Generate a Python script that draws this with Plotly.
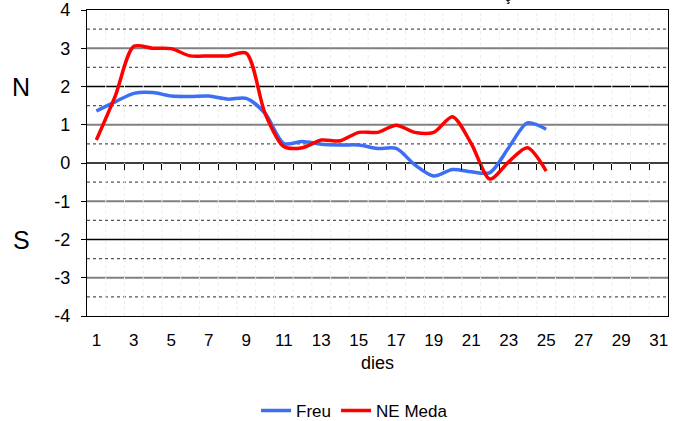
import plotly.graph_objects as go

days = list(range(1, 32))
freu_days = list(range(1, 26))
freu = [1.36, 1.6, 1.82, 1.84, 1.75, 1.74, 1.75, 1.67, 1.69, 1.3, 0.51, 0.56, 0.49, 0.47, 0.47,
        0.38, 0.38, -0.05, -0.34, -0.17, -0.23, -0.25, 0.4, 1.05, 0.88]
meda = [0.6, 1.74, 3.05, 3.0, 2.99, 2.8, 2.8, 2.8, 2.87, 1.3, 0.43, 0.4, 0.6, 0.58, 0.8,
        0.8, 0.99, 0.8, 0.8, 1.21, 0.51, -0.42, 0.03, 0.4, -0.21]
xtick_vals = list(range(1, 32, 2))
ytick_vals = list(range(-4, 5))
ytick_text = [str(v) for v in ytick_vals]
grid_half = [-3.5, -2.5, -1.5, -0.5, 0.5, 1.5, 2.5, 3.5]
grid_odd = [-3, -1, 1, 3]
grid_even = [-2, 2]

fig = go.Figure()
fig.add_trace(go.Scatter(x=freu_days, y=freu, mode="lines", name="Freu",
                         line=dict(color="#3d6ff5", width=3.5, shape="spline", smoothing=0.8)))
fig.add_trace(go.Scatter(x=freu_days, y=meda, mode="lines", name="NE Meda",
                         line=dict(color="#ff0000", width=3.5, shape="spline", smoothing=0.8)))

shapes = []
for v in grid_half:
    shapes.append(dict(type="line", xref="paper", x0=0, x1=1, yref="y", y0=v, y1=v,
                       line=dict(color="#555555", width=1.3, dash="dot"), layer="below"))
for v in grid_odd:
    shapes.append(dict(type="line", xref="paper", x0=0, x1=1, yref="y", y0=v, y1=v,
                       line=dict(color="#808080", width=1.8), layer="below"))
for v in grid_even + [0]:
    shapes.append(dict(type="line", xref="paper", x0=0, x1=1, yref="y", y0=v, y1=v,
                       line=dict(color="#000000", width=1.3), layer="below"))
for d in days[:-1]:
    shapes.append(dict(type="line", xref="x", x0=d + 0.5, x1=d + 0.5, yref="paper", y0=0, y1=1,
                       line=dict(color="#ececec", width=1, dash="dot"), layer="below"))
fig.update_layout(shapes=shapes)

fig.update_layout(
    width=677, height=421,
    margin=dict(l=87, r=9, t=10, b=105, autoexpand=False),
    paper_bgcolor="white", plot_bgcolor="white",
    font=dict(family="Liberation Sans, Arial, sans-serif", size=17, color="#000"),
    xaxis=dict(range=[0.5, 31.5], tickvals=xtick_vals, ticks="", showgrid=False, zeroline=False,
               showline=True, linecolor="black", linewidth=1.3, mirror=True, automargin=False,
               ticklabelstandoff=8,
               title=dict(text="dies", font=dict(size=18), standoff=7),
               tickfont=dict(size=17)),
    xaxis2=dict(range=[0.5, 31.5], overlaying="x", anchor="free", position=0.5,
                tickvals=[d + 0.5 for d in days[:-1]], ticks="outside", ticklen=6,
                tickcolor="black", tickwidth=1.3, showticklabels=False, showgrid=False,
                zeroline=False, showline=False, automargin=False),
    yaxis=dict(range=[-4, 4], tickvals=ytick_vals, ticktext=ytick_text, ticks="outside",
               ticklen=5, tickcolor="black", automargin=False, ticklabelstandoff=7,
               showgrid=False, zeroline=False, showline=True, linecolor="black", linewidth=1.3,
               mirror=True, tickfont=dict(size=18)),
    legend=dict(orientation="h", x=0.291, y=-0.31, xanchor="left", yanchor="middle",
                font=dict(size=17), itemwidth=30, tracegroupgap=0),
    showlegend=True,
)
fig.add_trace(go.Scatter(x=[None], y=[None], xaxis="x2", showlegend=False, hoverinfo="skip"))

fig.add_annotation(text="N", xref="paper", yref="y", x=-0.113, y=2, showarrow=False,
                   font=dict(size=25), xanchor="center")
fig.add_annotation(text="S", xref="paper", yref="y", x=-0.113, y=-2, showarrow=False,
                   font=dict(size=25), xanchor="center")
fig.add_annotation(text="ç", xref="paper", yref="paper", x=0.7246, y=1.016, showarrow=False,
                   font=dict(size=15), xanchor="center", yanchor="bottom", borderpad=0)

fig.write_html("out.html", config={"displayModeBar": False},
               post_script="document.body.style.margin='0';")
